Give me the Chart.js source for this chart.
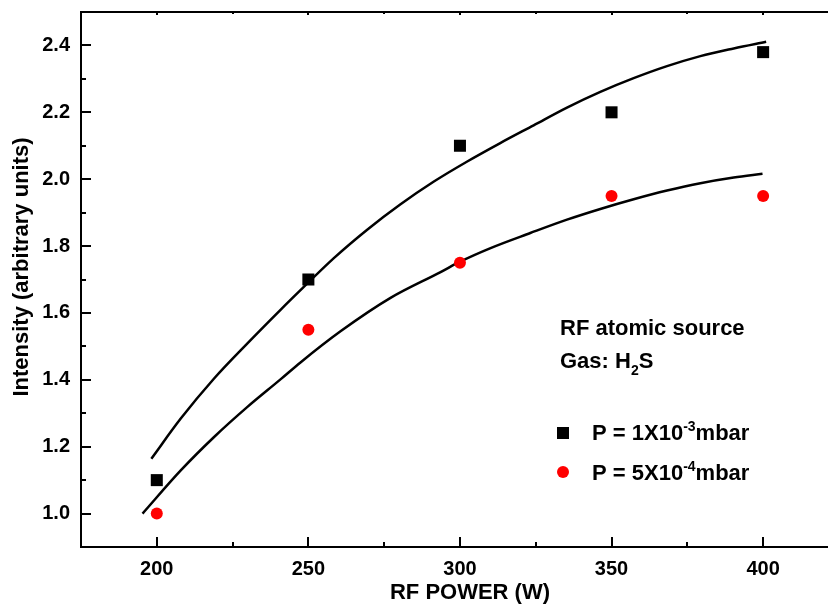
<!DOCTYPE html>
<html>
<head>
<meta charset="utf-8">
<script src="https://cdn.jsdelivr.net/npm/chart.js@4/dist/chart.umd.min.js"></script>
<style>
  html, body { margin: 0; padding: 0; background: #fff; }
  #chart { display: block; }
</style>
</head>
<body>
<canvas id="chart" width="828" height="608"></canvas>
<script>
// measured points
const power = [200, 250, 300, 350, 400];
const highPressure = [1.1, 1.7, 2.1, 2.2, 2.38];
const lowPressure = [1.0, 1.55, 1.75, 1.95, 1.95];

// fitted curves
const highFitX = [198.2, 207.9, 218.9, 229.9, 240.9, 247.4, 258.4, 269.4, 280.4, 291.4, 302.4, 313.3, 324.3, 335.3, 346.3, 357.3, 368.3, 379.3, 390.3, 401.0];
const highFitY = [1.164, 1.284, 1.404, 1.509, 1.610, 1.668, 1.764, 1.849, 1.925, 1.993, 2.053, 2.108, 2.161, 2.214, 2.261, 2.302, 2.338, 2.368, 2.391, 2.411];
const lowFitX = [195.3, 207.9, 218.9, 229.9, 240.9, 247.4, 260.6, 277.1, 293.6, 300.2, 310.1, 323.2, 335.3, 346.3, 357.3, 368.3, 379.3, 390.3, 399.8];
const lowFitY = [1.0, 1.129, 1.229, 1.319, 1.402, 1.452, 1.545, 1.645, 1.722, 1.754, 1.794, 1.839, 1.879, 1.911, 1.940, 1.966, 1.988, 2.005, 2.016];

// tick labels
const xTicks = [200, 250, 300, 350, 400];
const xMinorTicks = [175, 225, 275, 325, 375];
const yTicks = [1.0, 1.2, 1.4, 1.6, 1.8, 2.0, 2.2, 2.4];
const yMinorTicks = [0.9, 1.1, 1.3, 1.5, 1.7, 1.9, 2.1, 2.3, 2.5];

const FONT = '"Liberation Sans", Arial, sans-serif';

function toPoints(xs, ys) {
    return xs.map(function(x, i) { return { x: x, y: ys[i] }; });
}

// draws text pieces one after another, with sub/superscripts
function drawRich(ctx, x, y, parts) {
    parts.forEach(function(p) {
        const size = p.size || 22;
        ctx.font = 'bold ' + size + 'px ' + FONT;
        ctx.fillText(p.text, x, y + (p.dy || 0));
        x += ctx.measureText(p.text).width;
    });
}

function noPadding(scale) {
    scale.paddingTop = 0;
    scale.paddingBottom = 0;
    scale.paddingLeft = 0;
    scale.paddingRight = 0;
}

const framePlugin = {
    id: 'frame',
    afterDraw: function(chart) {
        const ctx = chart.ctx;
        const area = chart.chartArea;
        const xs = chart.scales.x;
        const ys = chart.scales.y;

        ctx.save();
        ctx.strokeStyle = '#000';
        ctx.fillStyle = '#000';
        ctx.lineWidth = 2;

        // top frame line
        ctx.beginPath();
        ctx.moveTo(area.left, area.top);
        ctx.lineTo(area.right, area.top);
        ctx.stroke();

        // inward ticks
        ctx.beginPath();
        xTicks.forEach(function(v) {
            const px = Math.round(xs.getPixelForValue(v));
            ctx.moveTo(px, area.bottom);
            ctx.lineTo(px, area.bottom - 10);
            ctx.moveTo(px, area.top);
            ctx.lineTo(px, area.top + 3);
        });
        xMinorTicks.forEach(function(v) {
            const px = Math.round(xs.getPixelForValue(v));
            ctx.moveTo(px, area.bottom);
            ctx.lineTo(px, area.bottom - 5);
            ctx.moveTo(px, area.top);
            ctx.lineTo(px, area.top + 2);
        });
        yTicks.forEach(function(v) {
            const py = Math.round(ys.getPixelForValue(v));
            ctx.moveTo(area.left, py);
            ctx.lineTo(area.left + 10, py);
        });
        yMinorTicks.forEach(function(v) {
            const py = Math.round(ys.getPixelForValue(v));
            ctx.moveTo(area.left, py);
            ctx.lineTo(area.left + 5, py);
        });
        ctx.stroke();

        // axis titles
        ctx.font = 'bold 22px ' + FONT;
        ctx.textAlign = 'center';
        ctx.textBaseline = 'middle';
        ctx.fillText('RF POWER (W)', 470, 593);
        ctx.save();
        ctx.translate(22, 267);
        ctx.rotate(-Math.PI / 2);
        ctx.fillText('Intensity (arbitrary units)', 0, 0);
        ctx.restore();

        // annotation
        ctx.textAlign = 'left';
        ctx.textBaseline = 'alphabetic';
        drawRich(ctx, 560, 335, [{ text: 'RF atomic source' }]);
        drawRich(ctx, 560, 368, [
            { text: 'Gas: H' },
            { text: '2', size: 14, dy: 7 },
            { text: 'S' }
        ]);

        // legend
        ctx.fillRect(557, 427, 12, 12);
        ctx.fillStyle = '#ff0000';
        ctx.beginPath();
        ctx.arc(563, 472, 6, 0, Math.PI * 2);
        ctx.fill();
        ctx.fillStyle = '#000';
        drawRich(ctx, 592, 440, [
            { text: 'P = 1X10' },
            { text: '-3', size: 14, dy: -9 },
            { text: 'mbar' }
        ]);
        drawRich(ctx, 592, 480, [
            { text: 'P = 5X10' },
            { text: '-4', size: 14, dy: -9 },
            { text: 'mbar' }
        ]);

        ctx.restore();
    }
};

const ctx = document.getElementById('chart').getContext('2d');

new Chart(ctx, {
    type: 'scatter',
    data: {
        datasets: [
            {
                label: 'P = 1X10^-3 mbar',
                data: toPoints(power, highPressure),
                pointStyle: 'rect',
                pointRadius: 8.5,
                backgroundColor: '#000',
                borderColor: '#000',
                borderWidth: 0,
                showLine: false,
                order: 1
            },
            {
                label: 'P = 5X10^-4 mbar',
                data: toPoints(power, lowPressure),
                pointStyle: 'circle',
                pointRadius: 6,
                backgroundColor: '#ff0000',
                borderColor: '#ff0000',
                borderWidth: 0,
                showLine: false,
                order: 1
            },
            {
                label: 'fit high',
                data: toPoints(highFitX, highFitY),
                showLine: true,
                pointRadius: 0,
                borderColor: '#000',
                borderWidth: 2.5,
                cubicInterpolationMode: 'monotone',
                order: 2
            },
            {
                label: 'fit low',
                data: toPoints(lowFitX, lowFitY),
                showLine: true,
                pointRadius: 0,
                borderColor: '#000',
                borderWidth: 2.5,
                cubicInterpolationMode: 'monotone',
                order: 2
            }
        ]
    },
    options: {
        responsive: false,
        animation: false,
        layout: { autoPadding: false, padding: { top: 12, right: 0, left: 0, bottom: 0 } },
        plugins: {
            legend: { display: false },
            tooltip: { enabled: false }
        },
        scales: {
            x: {
                type: 'linear',
                min: 175,
                max: 421.4,
                afterFit: function(scale) {
                    scale.height = 61;
                    noPadding(scale);
                },
                afterBuildTicks: function(scale) {
                    scale.ticks = xTicks.map(function(v) { return { value: v }; });
                },
                grid: { display: false },
                border: { display: true, color: '#000', width: 2 },
                ticks: {
                    color: '#000',
                    font: { family: FONT, size: 20, weight: 'bold' },
                    padding: 2,
                    maxRotation: 0,
                    autoSkip: false
                }
            },
            y: {
                type: 'linear',
                min: 0.9,
                max: 2.5,
                afterFit: function(scale) {
                    scale.width = 81;
                    noPadding(scale);
                },
                afterBuildTicks: function(scale) {
                    scale.ticks = yTicks.map(function(v) { return { value: v }; });
                },
                grid: { display: false },
                border: { display: true, color: '#000', width: 2 },
                ticks: {
                    color: '#000',
                    font: { family: FONT, size: 20, weight: 'bold' },
                    padding: 3,
                    autoSkip: false,
                    callback: function(v) { return Number(v).toFixed(1); }
                }
            }
        }
    },
    plugins: [framePlugin]
});
</script>
</body>
</html>
